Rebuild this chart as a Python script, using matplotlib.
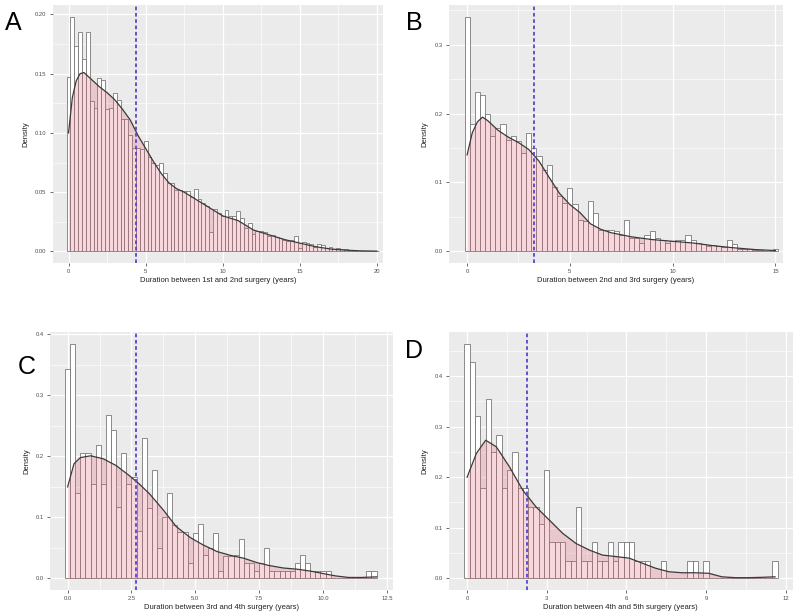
import numpy as np
import matplotlib
matplotlib.use('Agg')
import matplotlib.pyplot as plt
from matplotlib.ticker import MultipleLocator

plt.rcParams['font.family'] = ['Liberation Sans', 'DejaVu Sans']

# ---- panel A: 1st -> 2nd surgery (binwidth 0.25) ----
a_width = 0.25
a_heights = [0.147, 0.198, 0.173, 0.185, 0.162, 0.185, 0.127, 0.121, 0.146, 0.145,
             0.120, 0.121, 0.134, 0.128, 0.112, 0.112, 0.098, 0.087, 0.087, 0.086,
             0.093, 0.080, 0.075, 0.073, 0.075, 0.066, 0.058, 0.058, 0.052, 0.052,
             0.051, 0.051, 0.046, 0.053, 0.044, 0.041, 0.038, 0.016, 0.036, 0.032,
             0.030, 0.035, 0.030, 0.030, 0.034, 0.028, 0.020, 0.024, 0.015, 0.017,
             0.017, 0.016, 0.013, 0.014, 0.012, 0.011, 0.010, 0.009, 0.010, 0.013,
             0.003, 0.008, 0.007, 0.006, 0.004, 0.006, 0.005, 0.003, 0.004, 0.002,
             0.003, 0.002, 0.002, 0.001, 0.001, 0.0005, 0.0005, 0.0005, 0.0005, 0.0005, 0.0005]
a_dens_x = [0, 0.25, 0.5, 0.75, 1.0, 1.5, 2, 2.5, 3, 3.5, 4, 4.5, 5, 5.5, 6, 6.5, 7, 7.5, 8,
            9, 10, 11, 12, 13, 14, 15, 16, 17, 18, 19, 20]
a_dens_y = [0.100, 0.130, 0.144, 0.150, 0.151, 0.145, 0.139, 0.134, 0.128, 0.120, 0.111,
            0.098, 0.087, 0.076, 0.066, 0.058, 0.053, 0.050, 0.046, 0.038, 0.030, 0.026,
            0.018, 0.014, 0.010, 0.007, 0.004, 0.002, 0.001, 0.0004, 0.0002]
a_mean = 4.41

# ---- panel B: 2nd -> 3rd surgery (binwidth 0.25) ----
b_width = 0.25
b_heights = [0.340, 0.185, 0.232, 0.227, 0.200, 0.167, 0.179, 0.185, 0.162, 0.167,
             0.160, 0.143, 0.172, 0.150, 0.138, 0.118, 0.126, 0.094, 0.080, 0.070,
             0.092, 0.068, 0.046, 0.044, 0.073, 0.056, 0.031, 0.031, 0.031, 0.029,
             0.024, 0.046, 0.019, 0.019, 0.012, 0.024, 0.029, 0.019, 0.017, 0.012,
             0.015, 0.017, 0.016, 0.024, 0.016, 0.012, 0.010, 0.007, 0.009, 0.007,
             0.006, 0.016, 0.011, 0.004, 0.004, 0.003, 0.002, 0.002, 0.001, 0.001, 0.004]
b_dens_x = [0, 0.25, 0.5, 0.75, 1.0, 1.5, 2, 2.5, 3, 3.5, 4, 4.5, 5, 5.5, 6, 6.5, 7, 7.5, 8,
            9, 10, 11, 12, 13, 14, 15]
b_dens_y = [0.140, 0.172, 0.188, 0.195, 0.190, 0.176, 0.166, 0.158, 0.148, 0.131, 0.107,
            0.084, 0.068, 0.056, 0.040, 0.032, 0.027, 0.024, 0.021, 0.017, 0.0145, 0.012,
            0.008, 0.005, 0.0025, 0.001]
b_mean = 3.24

# ---- panel C: 3rd -> 4th surgery (binwidth 0.2) ----
c_width = 0.2
c_heights = [0.344, 0.385, 0.140, 0.205, 0.205, 0.154, 0.218, 0.154, 0.268, 0.243,
             0.117, 0.205, 0.154, 0.167, 0.078, 0.230, 0.115, 0.178, 0.050, 0.101,
             0.140, 0.087, 0.076, 0.076, 0.026, 0.075, 0.089, 0.038, 0.049, 0.075,
             0.0125, 0.037, 0.037, 0.038, 0.064, 0.025, 0.025, 0.0125, 0.025, 0.050,
             0.0125, 0.0125, 0.0125, 0.0125, 0.0125, 0.025, 0.038, 0.025, 0.0125, 0.0125,
             0.0125, 0.0125, 0, 0, 0, 0, 0, 0, 0, 0.0125, 0.0125]
c_dens_x = [0, 0.25, 0.5, 0.9, 1.4, 1.9, 2.4, 2.8, 3.2, 3.75, 4.25, 4.8, 5.3, 5.85, 6.35,
            6.9, 7.4, 7.9, 8.45, 9.0, 9.5, 10.0, 10.5, 11.0, 11.5, 12.1]
c_dens_y = [0.150, 0.188, 0.198, 0.201, 0.196, 0.185, 0.169, 0.155, 0.139, 0.112, 0.085,
            0.067, 0.055, 0.044, 0.038, 0.033, 0.026, 0.021, 0.017, 0.015, 0.012, 0.008,
            0.004, 0.0015, 0.0015, 0.0025]
c_mean = 2.68

# ---- panel D: 4th -> 5th surgery (binwidth 0.2) ----
d_width = 0.2
d_heights = [0.464, 0.428, 0.320, 0.178, 0.355, 0.250, 0.284, 0.178, 0.214, 0.250,
             0.178, 0.178, 0.142, 0.142, 0.107, 0.214, 0.072, 0.072, 0.072, 0.034,
             0.034, 0.142, 0.034, 0.034, 0.071, 0.034, 0.034, 0.071, 0.034, 0.071,
             0.071, 0.071, 0.034, 0.034, 0.034, 0, 0, 0.034, 0, 0,
             0, 0, 0.034, 0.034, 0, 0.034, 0, 0, 0, 0,
             0, 0, 0, 0, 0, 0, 0, 0, 0.034]
d_dens_x = [0, 0.35, 0.7, 1.1, 1.6, 2.1, 2.6, 3.1, 3.6, 4.1, 4.6, 5.1, 5.6, 6.1, 6.6, 7.1,
            7.6, 8.1, 8.6, 9.1, 9.6, 10.1, 10.6, 11.1, 11.6]
d_dens_y = [0.200, 0.247, 0.273, 0.260, 0.220, 0.174, 0.141, 0.115, 0.089, 0.069, 0.056,
            0.046, 0.043, 0.040, 0.030, 0.020, 0.013, 0.011, 0.011, 0.010, 0.003, 0.0013,
            0.0013, 0.002, 0.003]
d_mean = 2.26

panels = [
    dict(letter='A', heights=a_heights, width=a_width, dx=a_dens_x, dy=a_dens_y, mean=a_mean,
         xlim=(-1.02, 20.39), ylim=(-0.0098, 0.208), xmaj=5, ymaj=0.05, yfmt='{:.2f}', xfmt='{:.0f}',
         xlabel='Duration between 1st and 2nd surgery (years)',
         rect=[0.066, 0.5724, 0.4125, 0.4195], lpos=(0.017, 0.962)),
    dict(letter='B', heights=b_heights, width=b_width, dx=b_dens_x, dy=b_dens_y, mean=b_mean,
         xlim=(-0.89, 15.36), ylim=(-0.017, 0.358), xmaj=5, ymaj=0.1, yfmt='{:.1f}', xfmt='{:.0f}',
         xlabel='Duration between 2nd and 3rd surgery (years)',
         rect=[0.561, 0.5724, 0.4175, 0.4195], lpos=(0.518, 0.962)),
    dict(letter='C', heights=c_heights, width=c_width, dx=c_dens_x, dy=c_dens_y, mean=c_mean,
         xlim=(-0.69, 12.75), ylim=(-0.019, 0.404), xmaj=2.5, ymaj=0.1, yfmt='{:.1f}', xfmt='{:.1f}',
         xlabel='Duration between 3rd and 4th surgery (years)',
         rect=[0.0625, 0.0407, 0.429, 0.4195], lpos=(0.033, 0.403)),
    dict(letter='D', heights=d_heights, width=d_width, dx=d_dens_x, dy=d_dens_y, mean=d_mean,
         xlim=(-0.69, 12.27), ylim=(-0.023, 0.487), xmaj=3, ymaj=0.1, yfmt='{:.1f}', xfmt='{:.0f}',
         xlabel='Duration between 4th and 5th surgery (years)',
         rect=[0.561, 0.0407, 0.43, 0.4195], lpos=(0.518, 0.43)),
]

fig = plt.figure(figsize=(8, 6.15), dpi=100)
fig.patch.set_facecolor('white')

for p in panels:
    ax = fig.add_axes(p['rect'])
    ax.set_facecolor('#EBEBEB')
    for s in ax.spines.values():
        s.set_visible(False)

    # grid like ggplot theme_grey
    ax.xaxis.set_major_locator(MultipleLocator(p['xmaj']))
    ax.xaxis.set_minor_locator(MultipleLocator(p['xmaj'] / 2))
    ax.yaxis.set_major_locator(MultipleLocator(p['ymaj']))
    ax.yaxis.set_minor_locator(MultipleLocator(p['ymaj'] / 2))
    ax.grid(True, which='major', color='white', linewidth=0.9)
    ax.grid(True, which='minor', color='white', linewidth=0.45)
    ax.set_axisbelow(True)

    centers = np.arange(len(p['heights'])) * p['width']
    ax.bar(centers, p['heights'], width=p['width'], color='white',
           edgecolor='#6e6e6e', linewidth=0.55, zorder=2)
    ax.fill_between(p['dx'], 0, p['dy'], color='#E06070', alpha=0.25, linewidth=0, zorder=3)
    ax.plot(p['dx'], p['dy'], color='#3a3a3a', linewidth=0.9, zorder=4)
    ax.axvline(p['mean'], color='#5448c8', linestyle=(0, (2, 1.5)), linewidth=1.3, zorder=5)

    ax.set_xlim(*p['xlim'])
    ax.set_ylim(*p['ylim'])
    ax.xaxis.set_major_formatter(plt.FuncFormatter(lambda v, _, f=p['xfmt']: f.format(v)))
    ax.yaxis.set_major_formatter(plt.FuncFormatter(lambda v, _, f=p['yfmt']: f.format(v)))
    ax.tick_params(which='major', length=2, width=0.5, color='#333333',
                   labelsize=4.2, labelcolor='#4D4D4D', pad=2.5)
    ax.tick_params(which='minor', length=0)
    ax.set_xlabel(p['xlabel'], fontsize=5.5, color='#222222', labelpad=2)
    ax.set_ylabel('Density', fontsize=5.5, color='#222222', labelpad=4)

    fig.text(p['lpos'][0], p['lpos'][1], p['letter'], fontsize=18, ha='center', va='center')

plt.savefig('out.png', dpi=100, facecolor='white')
